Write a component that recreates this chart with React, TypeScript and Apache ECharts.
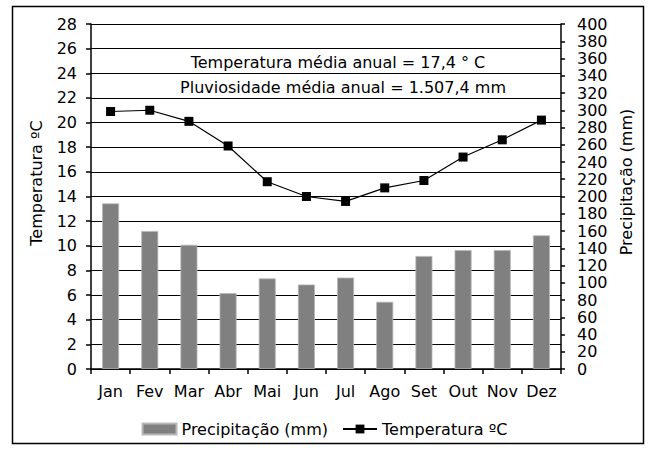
import React, { useEffect, useRef } from "react";
import * as echarts from "echarts";

const months = ["Jan", "Fev", "Mar", "Abr", "Mai", "Jun", "Jul", "Ago", "Set", "Out", "Nov", "Dez"];
const precipitation = [192, 160, 144, 88, 105, 98, 106, 78, 131, 138, 138, 155];
const temperature = [20.9, 21.0, 20.1, 18.1, 15.2, 14.0, 13.6, 14.7, 15.3, 17.2, 18.6, 20.2];
const note1 = "Temperatura média anual = 17,4 ° C";
const note2 = "Pluviosidade média anual = 1.507,4 mm";
const leftAxisName = "Temperatura ºC";
const rightAxisName = "Precipitação (mm)";

const FONT = "'DejaVu Sans', 'Liberation Sans', Arial, sans-serif";
const FS = 16;

export default function App() {
  const ref = useRef<HTMLDivElement>(null);
  useEffect(() => {
    if (!ref.current) return;
    const chart = echarts.init(ref.current, null, { renderer: "svg" });
    chart.setOption({
      animation: false,
      backgroundColor: "#ffffff",
      textStyle: { fontFamily: FONT },
      grid: { left: 91, right: 88, top: 24, bottom: 81, containLabel: false },
      legend: {
        bottom: 8,
        left: "center",
        itemGap: 14,
        itemWidth: 34,
        itemHeight: 11,
        textStyle: { fontSize: FS, color: "#000", fontFamily: FONT },
        data: [
          { name: "Precipitação (mm)", icon: "rect" },
          { name: "Temperatura ºC" },
        ],
      },
      xAxis: {
        type: "category",
        data: months,
        boundaryGap: true,
        axisLine: { lineStyle: { color: "#000", width: 1.5 } },
        axisTick: { show: true, length: 5, lineStyle: { color: "#000", width: 1.5 } },
        axisLabel: { color: "#000", fontSize: FS, margin: 14, fontFamily: FONT, interval: 0 },
      },
      yAxis: [
        {
          type: "value",
          min: 0,
          max: 28,
          interval: 2,
          axisLine: { show: true, lineStyle: { color: "#000", width: 1.5 } },
          axisTick: { show: true, length: 5, lineStyle: { color: "#000", width: 1.5 } },
          axisLabel: { color: "#000", fontSize: FS, margin: 14, fontFamily: FONT },
          splitLine: { show: true, lineStyle: { color: "#000", width: 1.2 } },
        },
        {
          type: "value",
          min: 0,
          max: 400,
          interval: 20,
          position: "right",
          axisLine: { show: true, lineStyle: { color: "#000", width: 1.5 } },
          axisTick: { show: true, length: 4, lineStyle: { color: "#000", width: 1.5 } },
          axisLabel: { color: "#000", fontSize: FS, margin: 16, fontFamily: FONT, lineHeight: 14 },
          splitLine: { show: false },
        },
      ],
      series: [
        {
          name: "Precipitação (mm)",
          type: "bar",
          yAxisIndex: 1,
          data: precipitation,
          barWidth: 17,
          itemStyle: { color: "#808080", borderColor: "#b8b8b8", borderWidth: 0.8 },
          z: 2,
        },
        {
          name: "Temperatura ºC",
          type: "line",
          yAxisIndex: 0,
          data: temperature,
          symbol: "rect",
          symbolSize: 9,
          lineStyle: { color: "#000", width: 1.2 },
          itemStyle: { color: "#000" },
          z: 3,
        },
      ],
      graphic: [
        {
          type: "rect",
          shape: { x: 12.5, y: 6.5, width: 631, height: 437 },
          style: { fill: "none", stroke: "#000", lineWidth: 1.5 },
          silent: true,
        },
        {
          type: "text",
          x: 338,
          y: 62,
          style: { text: note1, fill: "#000", font: `${FS}px ${FONT}`, align: "center", verticalAlign: "middle" },
        },
        {
          type: "text",
          x: 343,
          y: 87,
          style: { text: note2, fill: "#000", font: `${FS}px ${FONT}`, align: "center", verticalAlign: "middle" },
        },
        {
          type: "text",
          x: 36,
          y: 183,
          rotation: Math.PI / 2,
          style: { text: leftAxisName, fill: "#000", font: `${FS}px ${FONT}`, align: "center", verticalAlign: "middle" },
        },
        {
          type: "text",
          x: 626,
          y: 182,
          rotation: Math.PI / 2,
          style: { text: rightAxisName, fill: "#000", font: `${FS}px ${FONT}`, align: "center", verticalAlign: "middle" },
        },
      ],
    });
    return () => chart.dispose();
  }, []);
  return (
    <div
      ref={ref}
      style={{ position: "absolute", left: 0, top: 0, width: 649, height: 450 }}
    />
  );
}
